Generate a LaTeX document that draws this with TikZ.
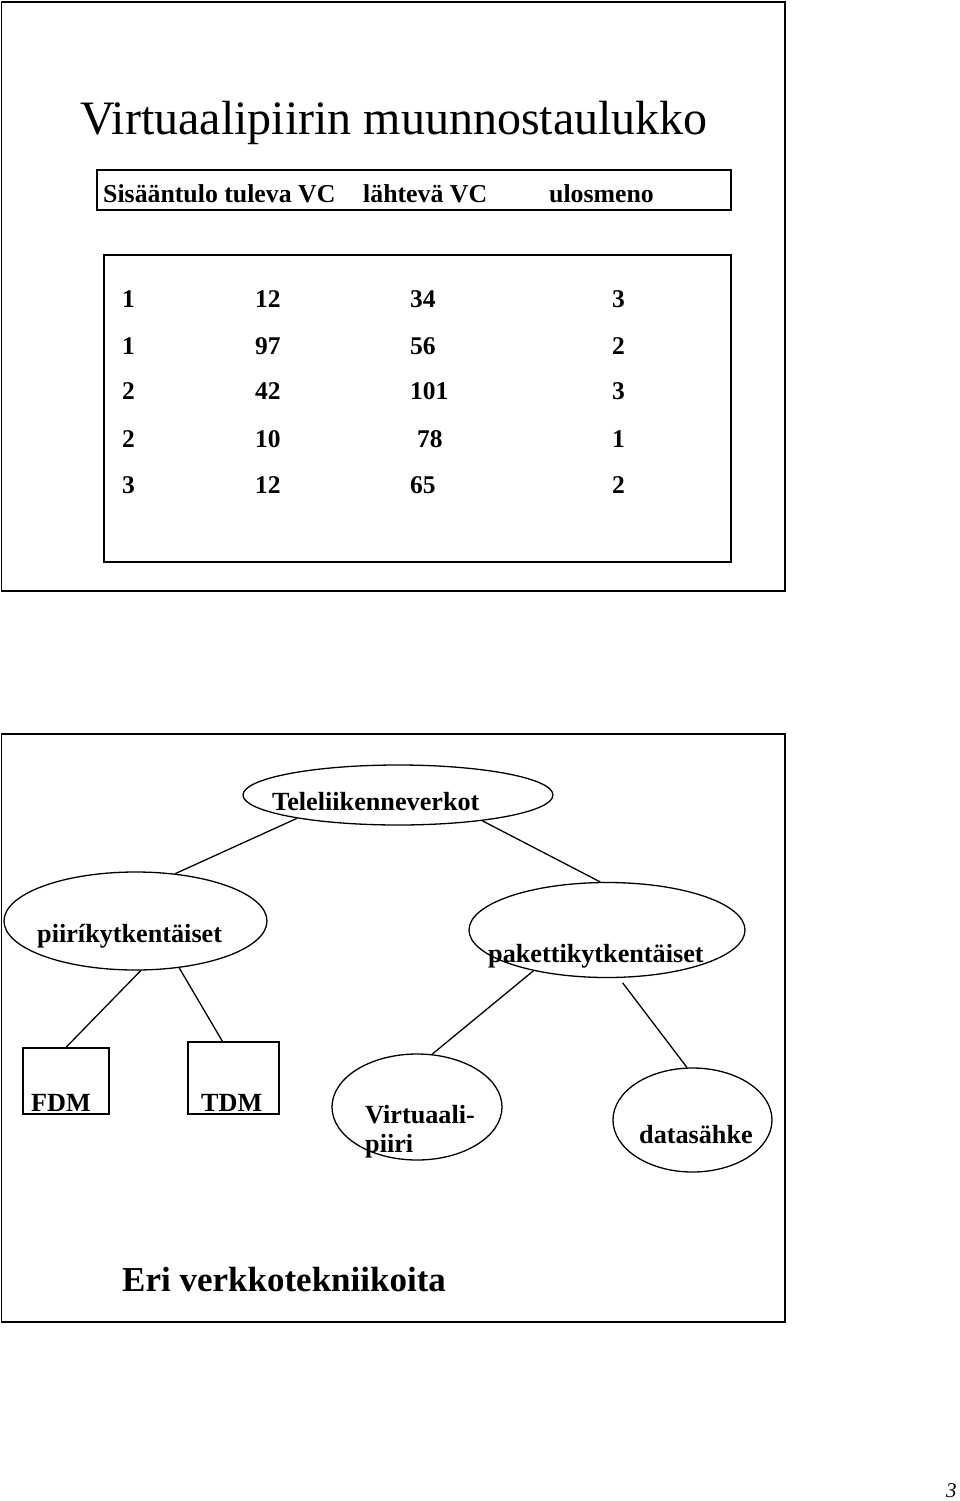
\documentclass[tikz,border=0pt]{standalone}
\usepackage{fontspec}
\setmainfont{Liberation Serif}
\usetikzlibrary{shapes.geometric,calc}
\tikzset{
  frame/.style={draw, line width=1.8pt},
  thin/.style={draw, line width=1.3pt},
  ell/.style={draw, ellipse, line width=1.3pt, inner sep=0pt},
  boxnode/.style={draw, rectangle, line width=1.3pt, inner sep=0pt},
  conn/.style={line width=1.3pt},
  lbl/.style={font=\fontsize{26.2}{29}\selectfont\bfseries, anchor=base west, inner sep=0pt},
  cell/.style={font=\fontsize{25.5}{28}\selectfont\bfseries, anchor=base west, inner sep=0pt},
}
\begin{document}
\begin{tikzpicture}[x=1pt,y=-1pt]
\useasboundingbox (0,0) rectangle (960,1501);
% ---------- upper slide ----------
\draw[frame] (1.5,2) rectangle (785,591);
\node[anchor=base west, inner sep=0pt, font=\fontsize{48}{52}\selectfont] (title) at (80,135) {Virtuaalipiirin muunnostaulukko};
\draw[thin] (97,170) rectangle (731,210);
\node[cell] (h1) at (103,202) {\fontsize{25.8}{28}\selectfont Sisääntulo tuleva VC};
\node[cell] (h2) at (363,202) {\fontsize{25.8}{28}\selectfont lähtevä VC};
\node[cell] (h3) at (549,202) {\fontsize{25.8}{28}\selectfont ulosmeno};
\draw[thin] (104,255) rectangle (731,562);
% rows
\node[cell] (r1a) at (122,307) {1}; \node[cell] (r1b) at (255,307) {12}; \node[cell] (r1c) at (410,307) {34};  \node[cell] (r1d) at (612,307) {3};
\node[cell] (r2a) at (122,354) {1}; \node[cell] (r2b) at (255,354) {97}; \node[cell] (r2c) at (410,354) {56};  \node[cell] (r2d) at (612,354) {2};
\node[cell] (r3a) at (122,399) {2}; \node[cell] (r3b) at (255,399) {42}; \node[cell] (r3c) at (410,399) {101}; \node[cell] (r3d) at (612,399) {3};
\node[cell] (r4a) at (122,447) {2}; \node[cell] (r4b) at (255,447) {10}; \node[cell] (r4c) at (417,447) {78};  \node[cell] (r4d) at (612,447) {1};
\node[cell] (r5a) at (122,493) {3}; \node[cell] (r5b) at (255,493) {12}; \node[cell] (r5c) at (410,493) {65};  \node[cell] (r5d) at (612,493) {2};
% ---------- lower slide ----------
\draw[frame] (1.5,734) rectangle (785,1322);
\node[ell, minimum width=310pt, minimum height=60pt] (tele) at (398,795) {};
\node[ell, minimum width=263pt, minimum height=98pt] (piiri) at (135.5,921) {};
\node[ell, minimum width=276pt, minimum height=95pt] (paketti) at (607,930) {};
\node[boxnode, minimum width=86pt, minimum height=66pt] (fdm) at (66,1081) {};
\node[boxnode, minimum width=91pt, minimum height=72pt] (tdm) at (233.5,1078) {};
\node[ell, minimum width=170pt, minimum height=106pt] (virt) at (417,1107) {};
\node[ell, minimum width=159pt, minimum height=104pt] (data) at (692.5,1120) {};
% labels
\node[lbl] (teleT) at (272,810) {Teleliikenneverkot};
\node[lbl] (piiriT) at (37,942) {piiríkytkentäiset};
\node[lbl] (pakettiT) at (488,962) {pakettikytkentäiset};
\node[lbl] (fdmT) at (31,1111) {FDM};
\node[lbl] (tdmT) at (201,1111) {TDM};
\node[lbl] (virtT1) at (365,1123) {Virtuaali-};
\node[lbl] (virtT2) at (365,1152) {piiri};
\node[lbl] (dataT) at (639,1143) {datasähke};
\node[anchor=base west, inner sep=0pt, font=\fontsize{35}{40}\selectfont\bfseries] (eri) at (122,1291) {Eri verkkotekniikoita};
% connectors
\draw[conn] (tele.193) -- (piiri.50);
\draw[conn] (tele.343) -- (paketti.98.5);
\draw[conn] (piiri.276) -- (fdm.north);
\draw[conn] (piiri.313.5) -- ($(tdm.north west)!0.38!(tdm.north east)$);
\draw[conn] (paketti.209) -- (virt.74);
\draw[conn, shorten <=6pt] (paketti.284) -- (data.96);
% page number
\node[anchor=base west, inner sep=0pt, font=\fontsize{21}{24}\selectfont\itshape] (pno) at (946,1497) {3};
\end{tikzpicture}
\end{document}
